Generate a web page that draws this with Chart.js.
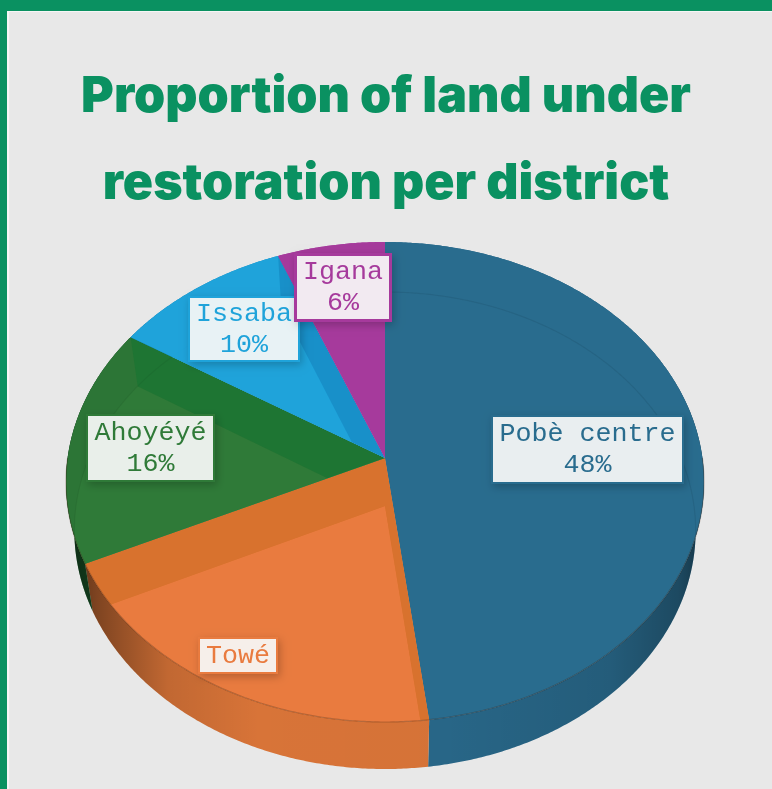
<!DOCTYPE html>
<html>
<head>
<meta charset="utf-8">
<title>Proportion of land under restoration per district</title>
<script src="https://cdn.jsdelivr.net/npm/chart.js@4"></script>
<style>
  html, body { margin: 0; padding: 0; background: #e8e8e8; }
  #frame { position: absolute; left: 0; top: 0; width: 772px; height: 789px; box-sizing: border-box;
           border-top: 11px solid #0a9161; border-left: 7px solid #0a9161; }
  #frame::before { content: ''; position: absolute; left: 0; top: 0; right: 0; bottom: 0;
           border-top: 1px solid #f6f6f6; border-left: 2px solid #f6f6f6; }
  #chart { position: absolute; left: 0; top: 0; }
</style>
</head>
<body>
<div id="frame"></div>
<canvas id="chart" width="772" height="789"></canvas>
<script>
var TITLE_LINES = ['Proportion of land under', 'restoration per district'];
var DISTRICTS = ['Pobè centre', 'Towé', 'Ahoyéyé', 'Issaba', 'Igana'];
var SHARES = [48, 20, 16, 10, 6];
var SHOW_PERCENT = [true, false, true, true, true];

var TOP_COLORS = ['#296c8e', '#e97b3f', '#2f7a38', '#1fa3da', '#a63a9c'];
var RIM_COLORS = ['#296c8e', '#d8742f', '#2c7536', '#1fa3da', '#a63a9c'];
var CUT_COLORS = ['#296c8e', '#d8722e', '#1e7533', '#1890c9', '#a63a9c'];
var WALL_COLORS = ['#29698b', '#dc7639', '#1f6a33', '#1890c9', '#a63a9c'];
var FLOOR_LINE_ALPHA = [0.07, 0.07, 0.05, 0, 0];

// label boxes, left/top/right/bottom
var LABEL_BOXES = [
  [491, 415, 684, 484],
  [198, 637, 278, 674],
  [86, 414, 215, 482],
  [188, 296, 300, 362],
  [294, 253, 392, 322]
];

// perspective disc: cx, apex y, horizontal radius, depth radius, perspective
var TOP_FACE = { cx: 385, y0: 458, rx: 317.4, ry: 237.6, p: 0.1 };
var BASE_FACE = { cx: 385, y0: 506, rx: 309, ry: 236, p: 0.1027 };

function project(face, theta) {
  var u = Math.sin(theta);
  var v = -Math.cos(theta);
  var w = 1 - face.p * v;
  return { x: face.cx + face.rx * u / w, y: face.y0 + face.ry * v / w };
}

function traceRim(ctx, face, from, to) {
  var steps = Math.max(2, Math.ceil(Math.abs(to - from) / 0.008));
  for (var i = 0; i <= steps; i++) {
    var pt = project(face, from + (to - from) * i / steps);
    ctx.lineTo(pt.x, pt.y);
  }
}

function traceSector(ctx, face, from, to) {
  ctx.beginPath();
  ctx.moveTo(face.cx, face.y0);
  traceRim(ctx, face, from, to);
  ctx.closePath();
}

function fillCutFace(ctx, theta, color) {
  var a = project(TOP_FACE, theta);
  var b = project(BASE_FACE, theta);
  ctx.beginPath();
  ctx.moveTo(TOP_FACE.cx, TOP_FACE.y0);
  ctx.lineTo(a.x, a.y);
  ctx.lineTo(b.x, b.y);
  ctx.lineTo(BASE_FACE.cx, BASE_FACE.y0);
  ctx.closePath();
  ctx.fillStyle = color;
  ctx.fill();
}

function drawWalls(ctx, angles) {
  var shade = ctx.createLinearGradient(66, 0, 704, 0);
  shade.addColorStop(0, 'rgba(0,0,0,0.62)');
  shade.addColorStop(0.05, 'rgba(0,0,0,0.42)');
  shade.addColorStop(0.16, 'rgba(0,0,0,0.12)');
  shade.addColorStop(0.3, 'rgba(0,0,0,0.02)');
  shade.addColorStop(0.6, 'rgba(0,0,0,0.03)');
  shade.addColorStop(0.85, 'rgba(0,0,0,0.12)');
  shade.addColorStop(0.96, 'rgba(0,0,0,0.3)');
  shade.addColorStop(1, 'rgba(0,0,0,0.5)');

  angles.forEach(function (a, i) {
    ctx.beginPath();
    var first = project(TOP_FACE, a.start);
    ctx.moveTo(first.x, first.y);
    traceRim(ctx, TOP_FACE, a.start, a.end);
    traceRim(ctx, BASE_FACE, a.end, a.start);
    ctx.closePath();
    ctx.fillStyle = WALL_COLORS[i];
    ctx.fill();
    ctx.fillStyle = shade;
    ctx.fill();
  });
}

function drawFaces(ctx, angles) {
  angles.forEach(function (a, i) {
    ctx.save();
    traceSector(ctx, TOP_FACE, a.start, a.end);
    ctx.fillStyle = RIM_COLORS[i];
    ctx.fill();
    ctx.clip();

    // floor of the slice, seen through the lid
    traceSector(ctx, BASE_FACE, a.start, a.end);
    ctx.fillStyle = TOP_COLORS[i];
    ctx.fill();

    // the cut faces of the slices
    fillCutFace(ctx, a.start, CUT_COLORS[i]);
    fillCutFace(ctx, a.end, CUT_COLORS[i]);

    // outline of the floor
    if (FLOOR_LINE_ALPHA[i] > 0) {
      ctx.beginPath();
      var from = project(BASE_FACE, 0);
      ctx.moveTo(from.x, from.y);
      traceRim(ctx, BASE_FACE, 0, Math.PI * 2);
      ctx.strokeStyle = 'rgba(0,0,0,' + FLOOR_LINE_ALPHA[i] + ')';
      ctx.lineWidth = 1.2;
      ctx.stroke();
    }
    ctx.restore();
  });

  // front edge of the lid
  ctx.beginPath();
  var start = project(TOP_FACE, Math.PI * 0.5);
  ctx.moveTo(start.x, start.y);
  traceRim(ctx, TOP_FACE, Math.PI * 0.5, Math.PI * 1.5);
  ctx.strokeStyle = 'rgba(60,30,10,0.28)';
  ctx.lineWidth = 1.2;
  ctx.stroke();
}

function drawLabels(ctx) {
  DISTRICTS.forEach(function (name, i) {
    var box = LABEL_BOXES[i];
    var w = box[2] - box[0];
    var h = box[3] - box[1];
    var lines = SHOW_PERCENT[i] ? [name, SHARES[i] + '%'] : [name];
    var midX = box[0] + w / 2;
    var midY = box[1] + h / 2;

    ctx.save();
    ctx.shadowColor = 'rgba(0,0,0,0.22)';
    ctx.shadowBlur = 8;
    ctx.shadowOffsetX = 2;
    ctx.shadowOffsetY = 3;
    ctx.fillStyle = TOP_COLORS[i];
    ctx.fillRect(box[0], box[1], w, h);
    ctx.restore();

    var edge = i === 4 ? 3 : 2;
    ctx.fillStyle = '#f8f8f8';
    ctx.fillRect(box[0] + edge, box[1] + edge, w - edge * 2, h - edge * 2);
    ctx.globalAlpha = 0.07;
    ctx.fillStyle = TOP_COLORS[i];
    ctx.fillRect(box[0] + edge, box[1] + edge, w - edge * 2, h - edge * 2);
    ctx.globalAlpha = 1;

    ctx.font = '26.7px "Liberation Mono", monospace';
    ctx.textAlign = 'center';
    ctx.textBaseline = 'middle';
    ctx.fillStyle = TOP_COLORS[i];
    lines.forEach(function (line, k) {
      ctx.fillText(line, midX, midY + (k - (lines.length - 1) / 2) * 31);
    });
  });
}

// draws the pie in perspective, using the angles worked out by the doughnut controller
var tiltedPie = {
  id: 'tiltedPie',
  beforeDatasetsDraw: function (chart) {
    var ctx = chart.ctx;
    var angles = chart.getDatasetMeta(0).data.map(function (arc) {
      return { start: arc.startAngle + Math.PI / 2, end: arc.endAngle + Math.PI / 2 };
    });
    ctx.save();
    drawWalls(ctx, angles);
    drawFaces(ctx, angles);
    drawLabels(ctx);
    ctx.restore();
    return false;
  }
};

new Chart(document.getElementById('chart'), {
  type: 'pie',
  data: {
    labels: DISTRICTS,
    datasets: [{ data: SHARES, backgroundColor: TOP_COLORS, borderWidth: 0 }]
  },
  options: {
    responsive: false,
    animation: false,
    events: [],
    layout: { padding: 0 },
    plugins: {
      legend: { display: false },
      tooltip: { enabled: false },
      title: {
        display: true,
        text: TITLE_LINES,
        color: '#0a9161',
        font: { family: 'Inter', size: 50, weight: '900', lineHeight: 1.74 },
        padding: { top: 53, bottom: 10 }
      }
    }
  },
  plugins: [tiltedPie]
});
</script>
</body>
</html>
